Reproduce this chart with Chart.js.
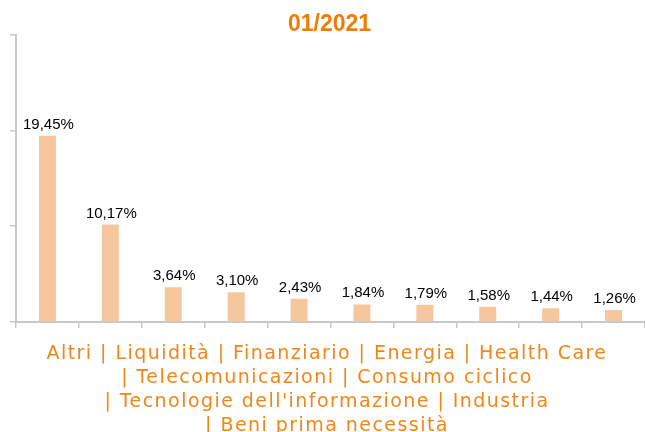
<!DOCTYPE html>
<html lang="it">
<head>
    <meta charset="utf-8">
    <script src="https://cdn.jsdelivr.net/npm/chart.js"></script>
    <style>
        html, body { margin: 0; padding: 0; background: #fff; }
        #wrap { width: 645px; height: 432px; }
    </style>
</head>
<body>
    <div id="wrap"><canvas id="allocChart"></canvas></div>

    <script>
        // data
        const categories = ["Altri", "Liquidità", "Finanziario", "Energia", "Health Care",
            "Telecomunicazioni", "Consumo ciclico", "Tecnologie dell'informazione",
            "Industria", "Beni prima necessità"];
        const weights = [19.45, 10.17, 3.64, 3.10, 2.43, 1.84, 1.79, 1.58, 1.44, 1.26];
        const yTicks = [0, 10, 20, 30];
        const chartTitle = "01/2021";

        const orange = "#f07d00";

        // value labels above each bar, italian decimal comma
        const valueLabels = {
            id: "valueLabels",
            afterDatasetsDraw(chart) {
                const ctx = chart.ctx;
                const meta = chart.getDatasetMeta(0);
                ctx.save();
                ctx.font = "15px 'Liberation Sans', Arial, sans-serif";
                ctx.fillStyle = "#000";
                ctx.textAlign = "center";
                ctx.textBaseline = "alphabetic";
                meta.data.forEach((bar, i) => {
                    const txt = weights[i].toFixed(2).replace(".", ",") + "%";
                    ctx.fillText(txt, bar.x + 1, bar.y - 7);
                });
                ctx.restore();
            }
        };

        // category list written under the axis, wrapped like the original
        const footerText = {
            id: "footerText",
            afterDraw(chart) {
                const ctx = chart.ctx;
                ctx.save();
                ctx.font = "19px 'DejaVu Sans', sans-serif";
                ctx.letterSpacing = "1.45px";
                ctx.fillStyle = "#f0861a";
                ctx.textAlign = "center";
                ctx.textBaseline = "alphabetic";
                const maxW = 610;
                let lines = [];
                let cur = categories[0];
                for (let i = 1; i < categories.length; i++) {
                    const next = cur + " | " + categories[i];
                    if (ctx.measureText(next).width > maxW) {
                        lines.push(cur);
                        cur = "| " + categories[i];
                    } else {
                        cur = next;
                    }
                }
                lines.push(cur);
                lines.forEach((ln, i) => {
                    ctx.fillText(ln, 327, 359 + i * 24);
                });
                ctx.restore();
            }
        };

        const ctx = document.getElementById("allocChart").getContext("2d");
        new Chart(ctx, {
            type: "bar",
            data: {
                labels: categories,
                datasets: [{
                    data: weights,
                    backgroundColor: "#f6c79d",
                    borderWidth: 0,
                    barPercentage: 0.54,
                    categoryPercentage: 0.5
                }]
            },
            options: {
                responsive: true,
                maintainAspectRatio: false,
                animation: false,
                layout: { padding: { left: 10, right: -4, top: 0, bottom: 104 } },
                scales: {
                    x: {
                        grid: { drawOnChartArea: false, color: "#c8c8c8", lineWidth: 1.5, tickLength: 6 },
                        border: { color: "#c8c8c8", width: 2 },
                        ticks: { display: false }
                    },
                    y: {
                        min: 0,
                        max: 30,
                        afterBuildTicks(axis) { axis.ticks = yTicks.map(v => ({ value: v })); },
                        grid: { drawOnChartArea: false, color: "#c8c8c8", lineWidth: 1.5, tickLength: 6 },
                        border: { color: "#c8c8c8", width: 2 },
                        ticks: { display: false }
                    }
                },
                plugins: {
                    legend: { display: false },
                    tooltip: { enabled: false },
                    title: {
                        display: true,
                        text: chartTitle,
                        color: orange,
                        font: { family: "'Liberation Sans', Arial, sans-serif", size: 23, weight: "bold", lineHeight: 0.9 },
                        padding: { top: 14, bottom: 0 }
                    }
                }
            },
            plugins: [valueLabels, footerText]
        });
    </script>
</body>
</html>
